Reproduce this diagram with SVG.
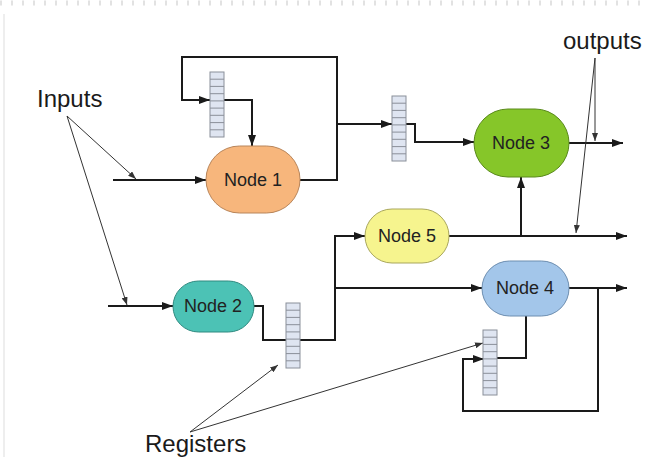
<svg xmlns="http://www.w3.org/2000/svg" width="648" height="457" viewBox="0 0 648 457">
<style>
.c{fill:none;stroke:#1a1a1a;stroke-width:2}
.t{fill:none;stroke:#333;stroke-width:1}
.n{stroke-width:1}
.nl{font-family:"Liberation Sans",Arial,sans-serif;font-size:18px;fill:#222;text-anchor:middle}
.lb{font-family:"Liberation Sans",Arial,sans-serif;font-size:24px;fill:#1a1a1a}
</style>
<defs>
<marker id="a" markerUnits="userSpaceOnUse" markerWidth="11" markerHeight="8" refX="11" refY="4" orient="auto"><path d="M0,0 L11,4 L0,8 z" fill="#1a1a1a"/></marker>
<marker id="s" markerUnits="userSpaceOnUse" markerWidth="8" markerHeight="6" refX="8" refY="3" orient="auto"><path d="M0,0 L8,3 L0,6 z" fill="#333"/></marker>
<g id="reg">
<rect x="0" y="0" width="14" height="65" fill="#dfe5f1" stroke="#8a8f99" stroke-width="1"/>
<path d="M0,7.2H14M0,14.4H14M0,21.7H14M0,28.9H14M0,36.1H14M0,43.3H14M0,50.6H14M0,57.8H14" stroke="#8a8f99" stroke-width="1"/>
</g>
</defs>
<rect width="648" height="457" fill="#fff"/>
<line x1="0" y1="3" x2="648" y2="3" stroke="#e2e2e2" stroke-width="5" stroke-dasharray="2 9"/>
<line x1="4" y1="14" x2="4" y2="457" stroke="#e8e8e8" stroke-width="1.5"/>

<g id="connectors">
<path class="c" d="M113,180 H206" marker-end="url(#a)"/>
<path class="c" d="M108,306 H173" marker-end="url(#a)"/>
<path class="c" d="M300,180 H337 V57 H182 V100 H210" marker-end="url(#a)"/>
<path class="c" d="M337,124 H392" marker-end="url(#a)"/>
<path class="c" d="M224,100 H252 V146" marker-end="url(#a)"/>
<path class="c" d="M406,124 H415 V142 H474" marker-end="url(#a)"/>
<path class="c" d="M569,143 H623" marker-end="url(#a)"/>
<path class="c" d="M449,236 H627" marker-end="url(#a)"/>
<path class="c" d="M521,236 V177" marker-end="url(#a)"/>
<path class="c" d="M254,306 H263 V340 H335 V236 H365" marker-end="url(#a)"/>
<path class="c" d="M335,288 H482" marker-end="url(#a)"/>
<path class="c" d="M569,288 H627" marker-end="url(#a)"/>
<path class="c" d="M598,288 V411 H463 V359 H484" marker-end="url(#a)"/>
<path class="c" d="M526,316 V358 H497"/>
<path class="t" d="M67,116 L136,179" marker-end="url(#s)"/>
<path class="t" d="M67,116 L127,305" marker-end="url(#s)"/>
<path class="t" d="M595,58 V141" marker-end="url(#s)"/>
<path class="t" d="M595,58 L576,233" marker-end="url(#s)"/>
<path class="t" d="M190,432 L278,365" marker-end="url(#s)"/>
<path class="t" d="M190,432 L483,343" marker-end="url(#s)"/>
</g>

<g id="register1"><use href="#reg" x="210" y="72"/></g>
<g id="register2"><use href="#reg" x="392" y="96"/></g>
<g id="register3"><use href="#reg" x="286" y="303"/></g>
<g id="register4"><use href="#reg" x="483" y="330"/></g>

<g id="node1"><rect class="n" x="206" y="146" width="94" height="67" rx="33.5" fill="#f7b67c" stroke="#b8855a"/><text class="nl" x="253" y="186">Node 1</text></g>
<g id="node2"><rect class="n" x="173" y="281" width="81" height="51" rx="25.5" fill="#4cc2b5" stroke="#2f8a80"/><text class="nl" x="213" y="312">Node 2</text></g>
<g id="node3"><rect class="n" x="474" y="109" width="95" height="68" rx="34" fill="#86c629" stroke="#5a8a1c"/><text class="nl" x="521" y="149">Node 3</text></g>
<g id="node4"><rect class="n" x="482" y="261" width="87" height="55" rx="27.5" fill="#a3c6ea" stroke="#6d8eb0"/><text class="nl" x="525" y="294">Node 4</text></g>
<g id="node5"><rect class="n" x="365" y="209" width="84" height="54" rx="27" fill="#f6f48e" stroke="#a9a75c"/><text class="nl" x="407" y="242">Node 5</text></g>

<text class="lb" x="37" y="107">Inputs</text>
<text class="lb" x="563" y="49">outputs</text>
<text class="lb" x="145" y="452">Registers</text>
</svg>
